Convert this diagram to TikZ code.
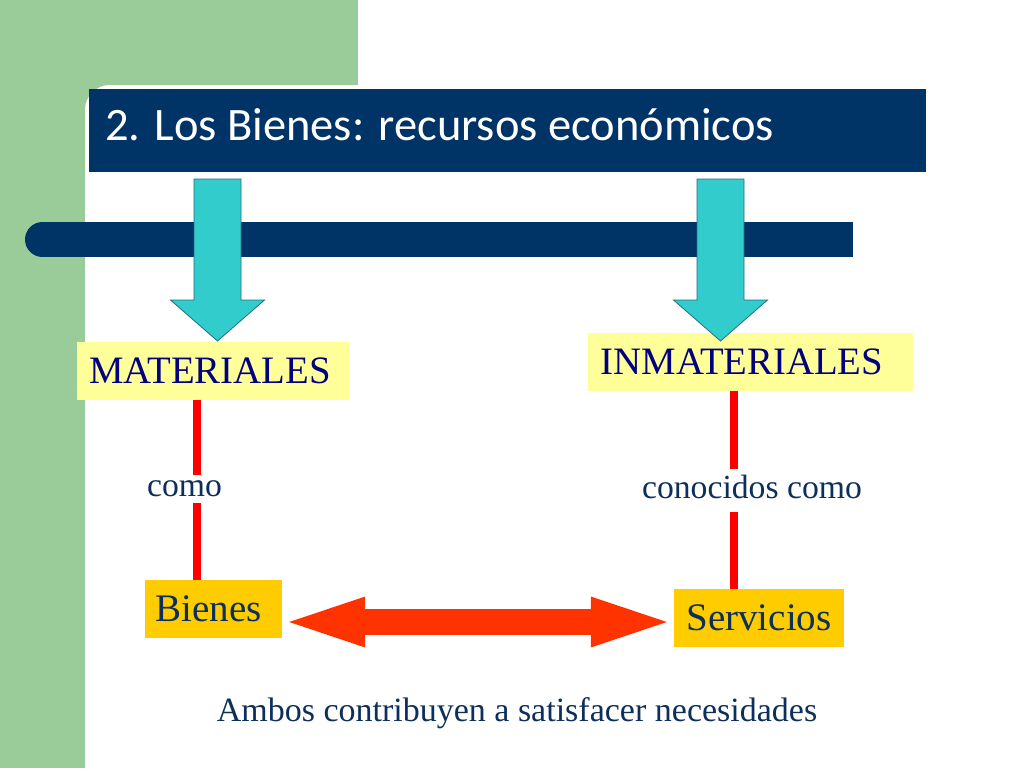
\documentclass[tikz,border=0pt]{standalone}
\usepackage{fontspec}
\setmainfont{Liberation Serif}
\newfontfamily\titlefont{Carlito}
\usetikzlibrary{arrows.meta,calc}
\definecolor{bggreen}{HTML}{99CC99}
\definecolor{navy}{HTML}{003366}
\definecolor{arrowcyan}{HTML}{33CCCC}
\definecolor{arrowedge}{HTML}{1F6F80}
\definecolor{paleyellow}{HTML}{FFFF99}
\definecolor{gold}{HTML}{FFCC00}
\definecolor{linered}{HTML}{FF0000}
\definecolor{orangered}{HTML}{FF3300}
\definecolor{capsblue}{HTML}{000080}
\definecolor{textnavy}{HTML}{0D2F5C}
\tikzset{
  catbox/.style={fill=paleyellow, text=capsblue, inner sep=0pt, minimum height=58pt,
    font=\fontsize{38.8}{40}\selectfont},
  kindbox/.style={fill=gold, text=textnavy, inner sep=0pt, minimum height=58pt,
    font=\fontsize{39}{40}\selectfont},
  linklabel/.style={text=textnavy, inner sep=0pt, font=\fontsize{33.7}{36}\selectfont},
  redlink/.style={draw=linered, line width=8pt},
  blockarrow/.style={fill=arrowcyan, draw=arrowedge, line width=0.8pt, line join=miter},
  bothways/.style={draw=orangered, line width=26pt,
    {Triangle[length=76pt,width=51pt,line width=0pt]}-{Triangle[length=76pt,width=51pt,line width=0pt]}}
}
\begin{document}
\begin{tikzpicture}[x=1pt,y=-1pt]
\useasboundingbox (0,0) rectangle (1024,768);
% background
\fill[white] (0,0) rectangle (1024,768);
\fill[bggreen] (0,0) rectangle (358,768);
\fill[white, rounded corners=25pt] (85,85) rectangle (420,800);
% title bar
\fill[navy] (89,89) rectangle (926,172);
\node[anchor=base west, text=white, inner sep=0pt, font=\titlefont\fontsize{46.5}{48}\selectfont]
  (title) at (105,140) {2. Los Bienes: recursos económicos};
% horizontal bar
\fill[navy] (42.5,222) rectangle (853,257);
\fill[navy] (42.5,239.5) circle (17.5);
% boxes
\node[catbox, minimum width=272pt] (mat) at (213,371) {MATERIALES\hspace*{6pt}};
\node[catbox, minimum width=325pt] (inm) at (750.5,362) {INMATERIALES\hspace*{17pt}};
\node[kindbox, minimum width=137pt] (bie) at (213.5,609) {Bienes\hspace*{10pt}};
\node[kindbox, minimum width=170pt] (ser) at (759,618) {Servicios};
% link labels
\node[linklabel, text height=15pt, text depth=-2pt, minimum height=28pt] (como) at (184.5,489) {como};
\node[linklabel, text height=23pt, text depth=8pt, minimum height=43pt] (cono) at (752,490.5) {conocidos como};
\coordinate (lx) at (197,0);
\coordinate (rx) at (734,0);
\draw[redlink] (mat.south -| lx) -- (como.north -| lx);
\draw[redlink] (como.south -| lx) -- (bie.north -| lx);
\draw[redlink] (inm.south -| rx) -- (cono.north -| rx);
\draw[redlink] (cono.south -| rx) -- (ser.north -| rx);
% cyan block arrows
\coordinate (a1) at (217.5,179);
\coordinate (a2) at (720.5,179);
\draw[blockarrow] (a1) ++(-23.5,0) -- ++(47,0) -- ++(0,121) -- ++(23.5,0) -- ++(-47,41) -- ++(-47,-41) -- ++(23.5,0) -- cycle;
\draw[blockarrow] (a2) ++(-23.5,0) -- ++(47,0) -- ++(0,121) -- ++(23.5,0) -- ++(-47,41) -- ++(-47,-41) -- ++(23.5,0) -- cycle;
% double arrow
\coordinate (ay) at (0,622);
\draw[bothways, shorten <=7pt, shorten >=7pt] (bie.east |- ay) -- (ser.west |- ay);
% bottom text
\node[text=textnavy, inner sep=0pt, font=\fontsize{34}{36}\selectfont] (ambos) at (517,713)
  {Ambos contribuyen a satisfacer necesidades};
\end{tikzpicture}
\end{document}
